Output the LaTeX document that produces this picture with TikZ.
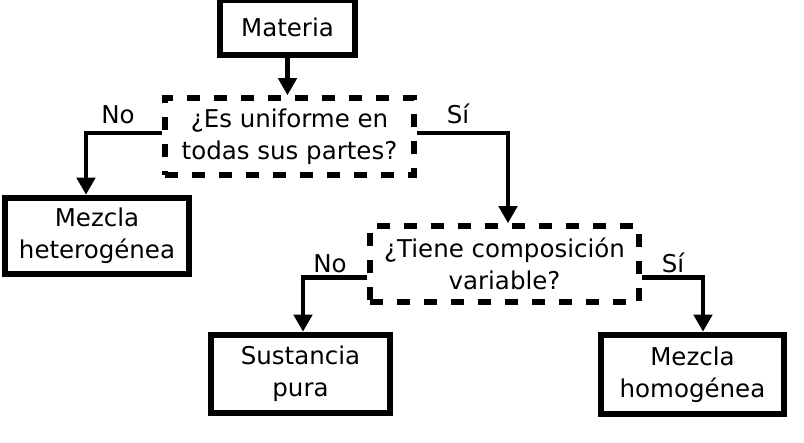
\documentclass[tikz,border=0pt]{standalone}
\usepackage{fontspec}
\setmainfont{DejaVu Sans}
\usetikzlibrary{arrows.meta}
\pgfdeclarelayer{background}
\pgfdeclarelayer{foreground}
\pgfsetlayers{background,main,foreground}

\begin{document}
\begin{tikzpicture}[x=1pt,y=-1pt,font=\fontsize{24.5}{32}\selectfont,
  caja/.style={draw,line width=6.5pt,align=center,inner sep=0pt},
  pregunta/.style={draw,line width=5.5pt,dash pattern=on 13pt off 14pt,align=center,inner sep=0pt},
  flecha/.style={line width=4.5pt,-{Triangle[length=17pt,width=18pt]}},
  rama/.style={inner sep=0pt,anchor=base}]
\useasboundingbox (0,0) rectangle (804,443);
\begin{pgfonlayer}{foreground}
\node[caja,minimum width=135pt,minimum height=55pt] (materia) at (287.5,27.5) {Materia};
\node[pregunta,minimum width=249pt,minimum height=77pt] (q1) at (289.5,136.5) {¿Es uniforme en\\todas sus partes?};
\node[caja,minimum width=184pt,minimum height=76pt] (het) at (97,236) {Mezcla\\heterogénea};
\node[pregunta,minimum width=269pt,minimum height=76pt] (q2) at (504.5,264) {¿Tiene composición\\variable?};
\node[caja,minimum width=179pt,minimum height=78pt] (pura) at (300.5,374) {Sustancia\\pura};
\node[caja,minimum width=183pt,minimum height=79pt] (hom) at (692.5,374.5) {Mezcla\\homogénea};
\end{pgfonlayer}
\begin{pgfonlayer}{background}
\draw[flecha] (materia.south) -- (materia.south |- q1.north);
\draw[flecha] ([yshift=3.5pt]q1.west) -| ([xshift=-11pt]het.north);
\node[rama] (no1) at (118,124) {No};
\draw[flecha] ([yshift=3.5pt]q1.east) -| ([xshift=3.5pt]q2.north);
\node[rama] (si1) at (458,124) {Sí};
\draw[flecha] ([yshift=-13.5pt]q2.west) -| ([xshift=2.5pt]pura.north);
\node[rama] (no2) at (330,273) {No};
\draw[flecha] ([yshift=-13.5pt]q2.east) -| ([xshift=10.5pt]hom.north);
\node[rama] (si2) at (673,273) {Sí};
\end{pgfonlayer}
\end{tikzpicture}
\end{document}
